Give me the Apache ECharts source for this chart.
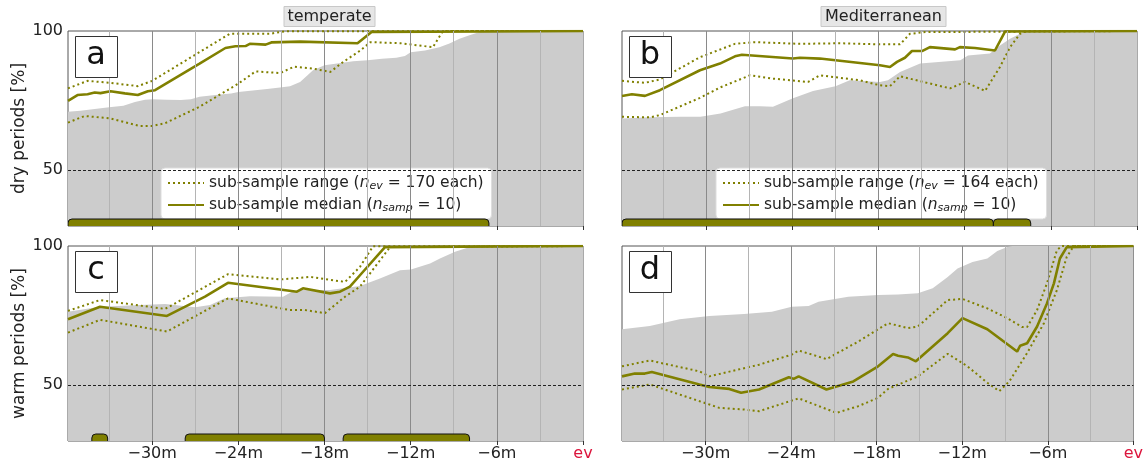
<!DOCTYPE html>
<html>
<head>
<meta charset="utf-8">
<script src="https://cdn.jsdelivr.net/npm/echarts@6/dist/echarts.min.js"></script>
<style>
  html, body { margin: 0; padding: 0; background: #fff; }
  #main { width: 1146px; height: 464px; }
</style>
</head>
<body>
<div id="main"></div>
<script>
// x in minutes before event, y in %
var xMin = -35.86;
var tickMinutes = [-30, -24, -18, -12, -6, 0];
var majorGrid = [-30, -24, -18, -12, -6];
var minorGrid = [-33, -27, -21, -15, -9, -3];
var yTicks = [50, 100];

var panelTitles = ['temperate', 'Mediterranean'];
var panelLetters = ['a', 'b', 'c', 'd'];
var rowNames = ['dry periods [%]', 'warm periods [%]'];
var nEv = [170, 164];
var nSamp = 10;

// 灰色背景区域
var grayA = [[-35.86,71.0],[-35.0,71.4],[-34.0,72.0],[-33.0,72.6],[-32.0,73.2],[-31.2,74.5],[-30.5,75.3],[-30.0,75.5],[-29.0,75.3],[-28.0,75.2],[-27.3,75.5],[-26.7,76.4],[-25.6,77.0],[-24.5,77.6],[-24.0,78.1],[-23.0,78.6],[-22.0,79.2],[-21.1,79.7],[-20.4,80.2],[-19.7,81.7],[-19.2,84.0],[-18.8,85.9],[-18.0,87.7],[-17.0,88.4],[-16.0,89.1],[-15.0,89.5],[-14.0,90.0],[-13.0,90.4],[-12.4,91.0],[-12.0,92.4],[-11.0,93.0],[-10.0,94.2],[-9.3,95.5],[-8.6,97.2],[-7.9,98.5],[-7.2,99.6],[-6.7,100],[0,100]];
var grayB = [[-35.86,68.6],[-33.9,69.0],[-31.8,69.2],[-30.4,69.2],[-29.0,70.4],[-27.3,73.0],[-26.25,73.0],[-25.35,72.8],[-24.0,75.8],[-22.56,78.5],[-21.0,80.2],[-20.0,82.3],[-17.9,81.7],[-17.34,82.3],[-16.5,85.3],[-15.1,88.3],[-12.3,89.5],[-11.77,91.2],[-10.24,91.9],[-9.54,94.8],[-8.84,97.2],[-8.15,99.0],[-7.66,100],[0,100]];
var grayC = [[-35.86,76.4],[-33.63,78.2],[-30.85,78.8],[-29.1,79.2],[-27.0,78.0],[-25.97,78.8],[-24.93,81.2],[-23.19,82.0],[-20.89,81.8],[-20.26,83.6],[-19.71,84.2],[-17.62,84.2],[-15.53,85.6],[-14.14,88.3],[-12.74,91.3],[-11.98,91.6],[-10.65,93.7],[-9.96,95.5],[-8.91,97.9],[-7.87,99.6],[-7.52,100],[0,100]];
var grayD = [[-35.86,70.1],[-33.91,71.3],[-31.82,73.7],[-29.74,74.9],[-27.3,75.6],[-25.35,76.4],[-23.96,78.2],[-22.77,78.5],[-22.08,80.0],[-19.99,81.8],[-17.9,82.4],[-16.5,82.6],[-15.11,83.0],[-14.07,84.8],[-13.02,88.9],[-12.33,91.9],[-11.28,94.3],[-10.24,95.5],[-9.54,98.2],[-8.84,99.6],[-8.5,100],[0,100]];

// sub-sample median
var medA = [[-35.86,74.9],[-35.2,77.0],[-34.5,77.3],[-34.0,77.9],[-33.6,77.7],[-32.9,78.4],[-31.9,77.6],[-31.0,77.0],[-30.3,78.4],[-29.8,78.75],[-26.7,88.3],[-24.9,93.9],[-24.2,94.5],[-23.5,94.6],[-23.2,95.4],[-22.1,95.1],[-21.7,95.9],[-19.7,96.2],[-15.7,95.6],[-14.7,99.7],[-6.7,99.8],[0,100]];
var medB = [[-35.86,76.7],[-35.17,77.3],[-34.26,76.7],[-33.22,78.75],[-30.43,85.9],[-29.04,88.3],[-27.99,90.9],[-27.51,91.5],[-23.96,90.1],[-23.47,90.4],[-22.08,90.1],[-19.29,88.5],[-17.9,87.7],[-17.2,87.1],[-16.71,88.9],[-16.16,90.4],[-15.67,92.8],[-14.97,92.8],[-14.42,94.2],[-12.67,93.4],[-12.33,94.2],[-11.28,93.9],[-9.89,93.0],[-9.19,99.8],[0,100]];
var medC = [[-35.86,73.7],[-33.63,78.2],[-28.97,74.9],[-26.32,81.8],[-24.72,86.8],[-21.1,84.4],[-19.92,83.6],[-19.5,84.8],[-17.62,83.0],[-16.92,83.6],[-16.23,85.4],[-15.53,89.5],[-13.79,99.6],[0,100]];
var medD = [[-35.86,53.2],[-34.96,54.2],[-34.26,54.2],[-33.77,54.8],[-30.43,50.3],[-29.74,49.4],[-28.34,48.7],[-27.51,47.3],[-26.25,48.5],[-24.16,52.9],[-23.82,52.3],[-23.47,53.2],[-21.52,48.5],[-19.64,51.4],[-17.9,56.8],[-16.85,61.2],[-16.5,60.6],[-15.81,60.0],[-15.25,58.6],[-13.02,68.7],[-11.98,74.1],[-10.24,70.1],[-8.15,62.1],[-7.94,64.2],[-7.45,65.1],[-6.75,71.1],[-6.06,79.4],[-5.57,86.6],[-5.15,95.5],[-4.67,99.6],[0,100]];

// sub-sample range, upper and lower
var hiA = [[-35.86,79.4],[-34.5,82.1],[-32.9,81.4],[-31.0,80.2],[-30.0,82.1],[-24.6,99.0],[-21.8,99.0],[-20.75,99.9],[0,100]];
var loA = [[-35.86,67.1],[-34.7,69.5],[-32.9,68.6],[-30.85,65.9],[-30.0,65.9],[-29.1,66.9],[-26.7,72.8],[-24.0,81.1],[-22.8,85.5],[-21.1,84.9],[-20.1,87.2],[-18.8,86.5],[-17.6,85.3],[-16.7,88.9],[-15.5,93.0],[-14.8,96.0],[-12.7,95.6],[-10.45,94.2],[-9.9,98.8],[-9.75,100],[0,100]];
var hiB = [[-35.86,82.1],[-34.26,81.4],[-33.22,82.6],[-30.43,90.6],[-27.99,95.4],[-26.6,96.0],[-23.47,95.4],[-20.68,95.6],[-17.9,95.2],[-16.5,95.2],[-15.81,99.0],[-14.76,99.6],[0,100]];
var loB = [[-35.86,69.2],[-33.91,69.0],[-33.22,69.8],[-30.43,76.0],[-29.04,79.7],[-26.95,84.1],[-25.35,82.9],[-22.91,81.7],[-22.08,84.1],[-19.29,82.3],[-17.9,80.5],[-17.2,80.2],[-16.5,83.75],[-13.02,79.4],[-11.98,81.7],[-10.58,78.5],[-9.54,87.1],[-8.84,94.2],[-8.15,99.0],[-7.66,100],[0,100]];
var hiC = [[-35.86,76.7],[-33.63,80.6],[-29.1,77.4],[-24.72,89.9],[-21.1,88.0],[-19.01,88.9],[-16.57,87.1],[-15.53,92.5],[-14.62,99.9],[0,100]];
var loC = [[-35.86,68.9],[-33.63,73.5],[-28.97,69.3],[-24.72,81.2],[-20.42,77.0],[-19.36,77.0],[-17.97,75.9],[-16.57,81.8],[-15.53,85.4],[-13.44,99.6],[0,100]];
var hiD = [[-35.86,56.8],[-33.91,58.9],[-30.43,55.0],[-29.74,53.2],[-26.25,57.4],[-23.96,61.0],[-23.47,62.5],[-21.52,59.4],[-19.29,65.7],[-17.9,70.1],[-17.2,72.3],[-15.81,70.5],[-15.11,71.1],[-13.02,80.6],[-11.98,81.0],[-10.24,77.6],[-8.84,74.1],[-7.8,70.9],[-7.45,70.9],[-6.75,77.0],[-6.06,86.6],[-5.36,98.5],[-5.01,100],[0,100]];
var loD = [[-35.86,48.5],[-33.91,50.3],[-29.04,41.9],[-27.3,41.3],[-26.25,40.7],[-23.47,45.3],[-20.82,40.1],[-19.29,42.5],[-17.9,45.5],[-17.2,48.7],[-15.11,53.2],[-13.02,61.3],[-11.63,56.8],[-10.24,50.9],[-9.4,47.9],[-8.7,51.4],[-7.45,61.6],[-6.27,72.3],[-5.36,84.2],[-4.67,96.1],[-4.18,100],[0,100]];

// 底部时段条 [start, end]
var barsA = [[-35.86,-6.55]];
var barsB = [[-35.86,-10.0],[-10.0,-7.4]];
var barsC = [[-34.2,-33.1],[-27.7,-18.0],[-16.7,-7.9]];
var barsD = [];

var grayList = [grayA, grayB, grayC, grayD];
var medList = [medA, medB, medC, medD];
var hiList = [hiA, hiB, hiC, hiD];
var loList = [loA, loB, loC, loD];
var barList = [barsA, barsB, barsC, barsD];

var OLIVE = '#808000';
var FONT = 'DejaVu Sans';
var gridPos = [
    {left: 68, top: 31, width: 515, height: 195},
    {left: 622, top: 31, width: 515, height: 195},
    {left: 68, top: 246, width: 515, height: 195},
    {left: 622, top: 246, width: 515, height: 195}
];

var chart = echarts.init(document.getElementById('main'), null, {renderer: 'canvas'});

var grids = [], xAxes = [], yAxes = [], series = [], graphics = [];
for (var i = 0; i < 4; i++) {
    var isBottom = i >= 2, isLeft = i % 2 === 0;
    grids.push({left: gridPos[i].left, top: gridPos[i].top, width: gridPos[i].width, height: gridPos[i].height,
        show: true, borderColor: '#555', borderWidth: 1});
    xAxes.push({
        type: 'value', gridIndex: i, min: xMin, max: 0,
        axisLine: {show: false},
        splitLine: {show: false},
        axisTick: {show: true, customValues: tickMinutes, length: 4, lineStyle: {color: '#333'}},
        axisLabel: {
            show: isBottom, customValues: tickMinutes, margin: 5,
            fontFamily: FONT, fontSize: 16, color: '#222',
            formatter: function (v) { return v === 0 ? '{ev|ev}' : '\u2212' + (-v) + 'm'; },
            rich: {ev: {color: '#dc143c', fontFamily: FONT, fontSize: 16}}
        }
    });
    yAxes.push({
        type: 'value', gridIndex: i, min: 30, max: 100,
        name: isLeft ? rowNames[isBottom ? 1 : 0] : '',
        nameLocation: 'middle', nameGap: 40,
        nameTextStyle: {fontFamily: FONT, fontSize: 17, color: '#222'},
        axisLine: {show: false},
        splitLine: {show: false},
        axisTick: {show: true, customValues: yTicks, length: 4, lineStyle: {color: '#333'}},
        axisLabel: {show: isLeft, customValues: yTicks, margin: 5, fontFamily: FONT, fontSize: 16, color: '#222'}
    });

    var gl = [];
    majorGrid.forEach(function (v) { gl.push({xAxis: v, lineStyle: {color: '#8a8a8a', width: 1, type: 'solid'}}); });
    minorGrid.forEach(function (v) { gl.push({xAxis: v, lineStyle: {color: '#b4b4b4', width: 1, type: 'solid'}}); });
    gl.push({yAxis: 50, lineStyle: {color: '#222', width: 1, type: [3, 2]}});

    series.push({
        type: 'line', name: 'gray' + i, xAxisIndex: i, yAxisIndex: i,
        data: grayList[i], symbol: 'none', lineStyle: {width: 0},
        areaStyle: {color: '#cccccc', opacity: 1, origin: 'start'},
        silent: true, z: 1,
        markLine: {silent: true, symbol: 'none', label: {show: false}, data: gl, animation: false}
    });
    var rangeName = 'range' + i, medName = 'median' + i;
    [hiList[i], loList[i]].forEach(function (d) {
        series.push({
            type: 'line', name: rangeName, xAxisIndex: i, yAxisIndex: i,
            data: d, symbol: 'none', z: 3,
            lineStyle: {color: OLIVE, width: 2, type: [2, 3]}, itemStyle: {color: OLIVE}
        });
    });
    series.push({
        type: 'line', name: medName, xAxisIndex: i, yAxisIndex: i,
        data: medList[i], symbol: 'none', z: 4,
        lineStyle: {color: OLIVE, width: 2.6}, itemStyle: {color: OLIVE}
    });
    series.push({
        type: 'custom', name: 'bars' + i, xAxisIndex: i, yAxisIndex: i,
        data: barList[i], clip: true, z: 5, silent: true,
        encode: {x: [0, 1]},
        renderItem: function (params, api) {
            var s = api.coord([api.value(0), 30]);
            var e = api.coord([api.value(1), 30]);
            return {
                type: 'rect',
                shape: {x: s[0], y: s[1] - 7, width: e[0] - s[0], height: 11, r: 4},
                style: {fill: OLIVE, stroke: '#111', lineWidth: 1}
            };
        }
    });

    // panel letter box
    var gp = gridPos[i];
    graphics.push({
        type: 'rect', left: gp.left + 7, top: gp.top + 5, z: 100,
        shape: {width: 42, height: 41},
        style: {fill: '#fff', stroke: '#333', lineWidth: 1}
    });
    graphics.push({
        type: 'text', x: gp.left + 28, y: gp.top + 25, z: 101,
        style: {text: panelLetters[i], fontFamily: FONT, fontSize: 32, fill: '#111',
            textAlign: 'center', textVerticalAlign: 'middle'}
    });
}

function legendFormatter(name) {
    var col = name === 'range0' || name === 'median0' ? 0 : 1;
    if (name.indexOf('range') === 0) {
        return '{t|sub-sample range (}{i|n}{s|ev}{t| = ' + nEv[col] + ' each)}';
    }
    return '{t|sub-sample median (}{i|n}{s|samp}{t| = ' + nSamp + ')}';
}
var legendRich = {
    t: {fontFamily: FONT, fontSize: 15.5, color: '#222', lineHeight: 18},
    i: {fontFamily: FONT, fontSize: 15.5, color: '#222', fontStyle: 'italic', lineHeight: 18},
    s: {fontFamily: FONT, fontSize: 11, color: '#222', fontStyle: 'italic', verticalAlign: 'bottom', lineHeight: 10}
};
var legends = [0, 1].map(function (col) {
    return {
        data: ['range' + col, 'median' + col],
        orient: 'vertical', left: col === 0 ? 161 : 716, top: 168,
        itemWidth: 36, itemHeight: 12, itemGap: 5,
        itemStyle: {opacity: 0},
        backgroundColor: '#fff', borderColor: '#ddd', borderWidth: 1, borderRadius: 4,
        padding: [7, 8, 5, 6],
        selectedMode: false,
        formatter: legendFormatter,
        textStyle: {rich: legendRich}
    };
});

var titles = panelTitles.map(function (t, col) {
    return {
        text: t, left: col === 0 ? 325.5 : 879.5, top: 6, textAlign: 'center',
        backgroundColor: '#e6e6e6', borderColor: '#c8c8c8', borderWidth: 1,
        padding: [3, 4, 2, 4],
        textStyle: {fontFamily: FONT, fontSize: 16, fontWeight: 'normal', color: '#222'}
    };
});

chart.setOption({
    animation: false,
    title: titles,
    legend: legends,
    grid: grids,
    xAxis: xAxes,
    yAxis: yAxes,
    series: series,
    graphic: graphics
});
</script>
</body>
</html>
